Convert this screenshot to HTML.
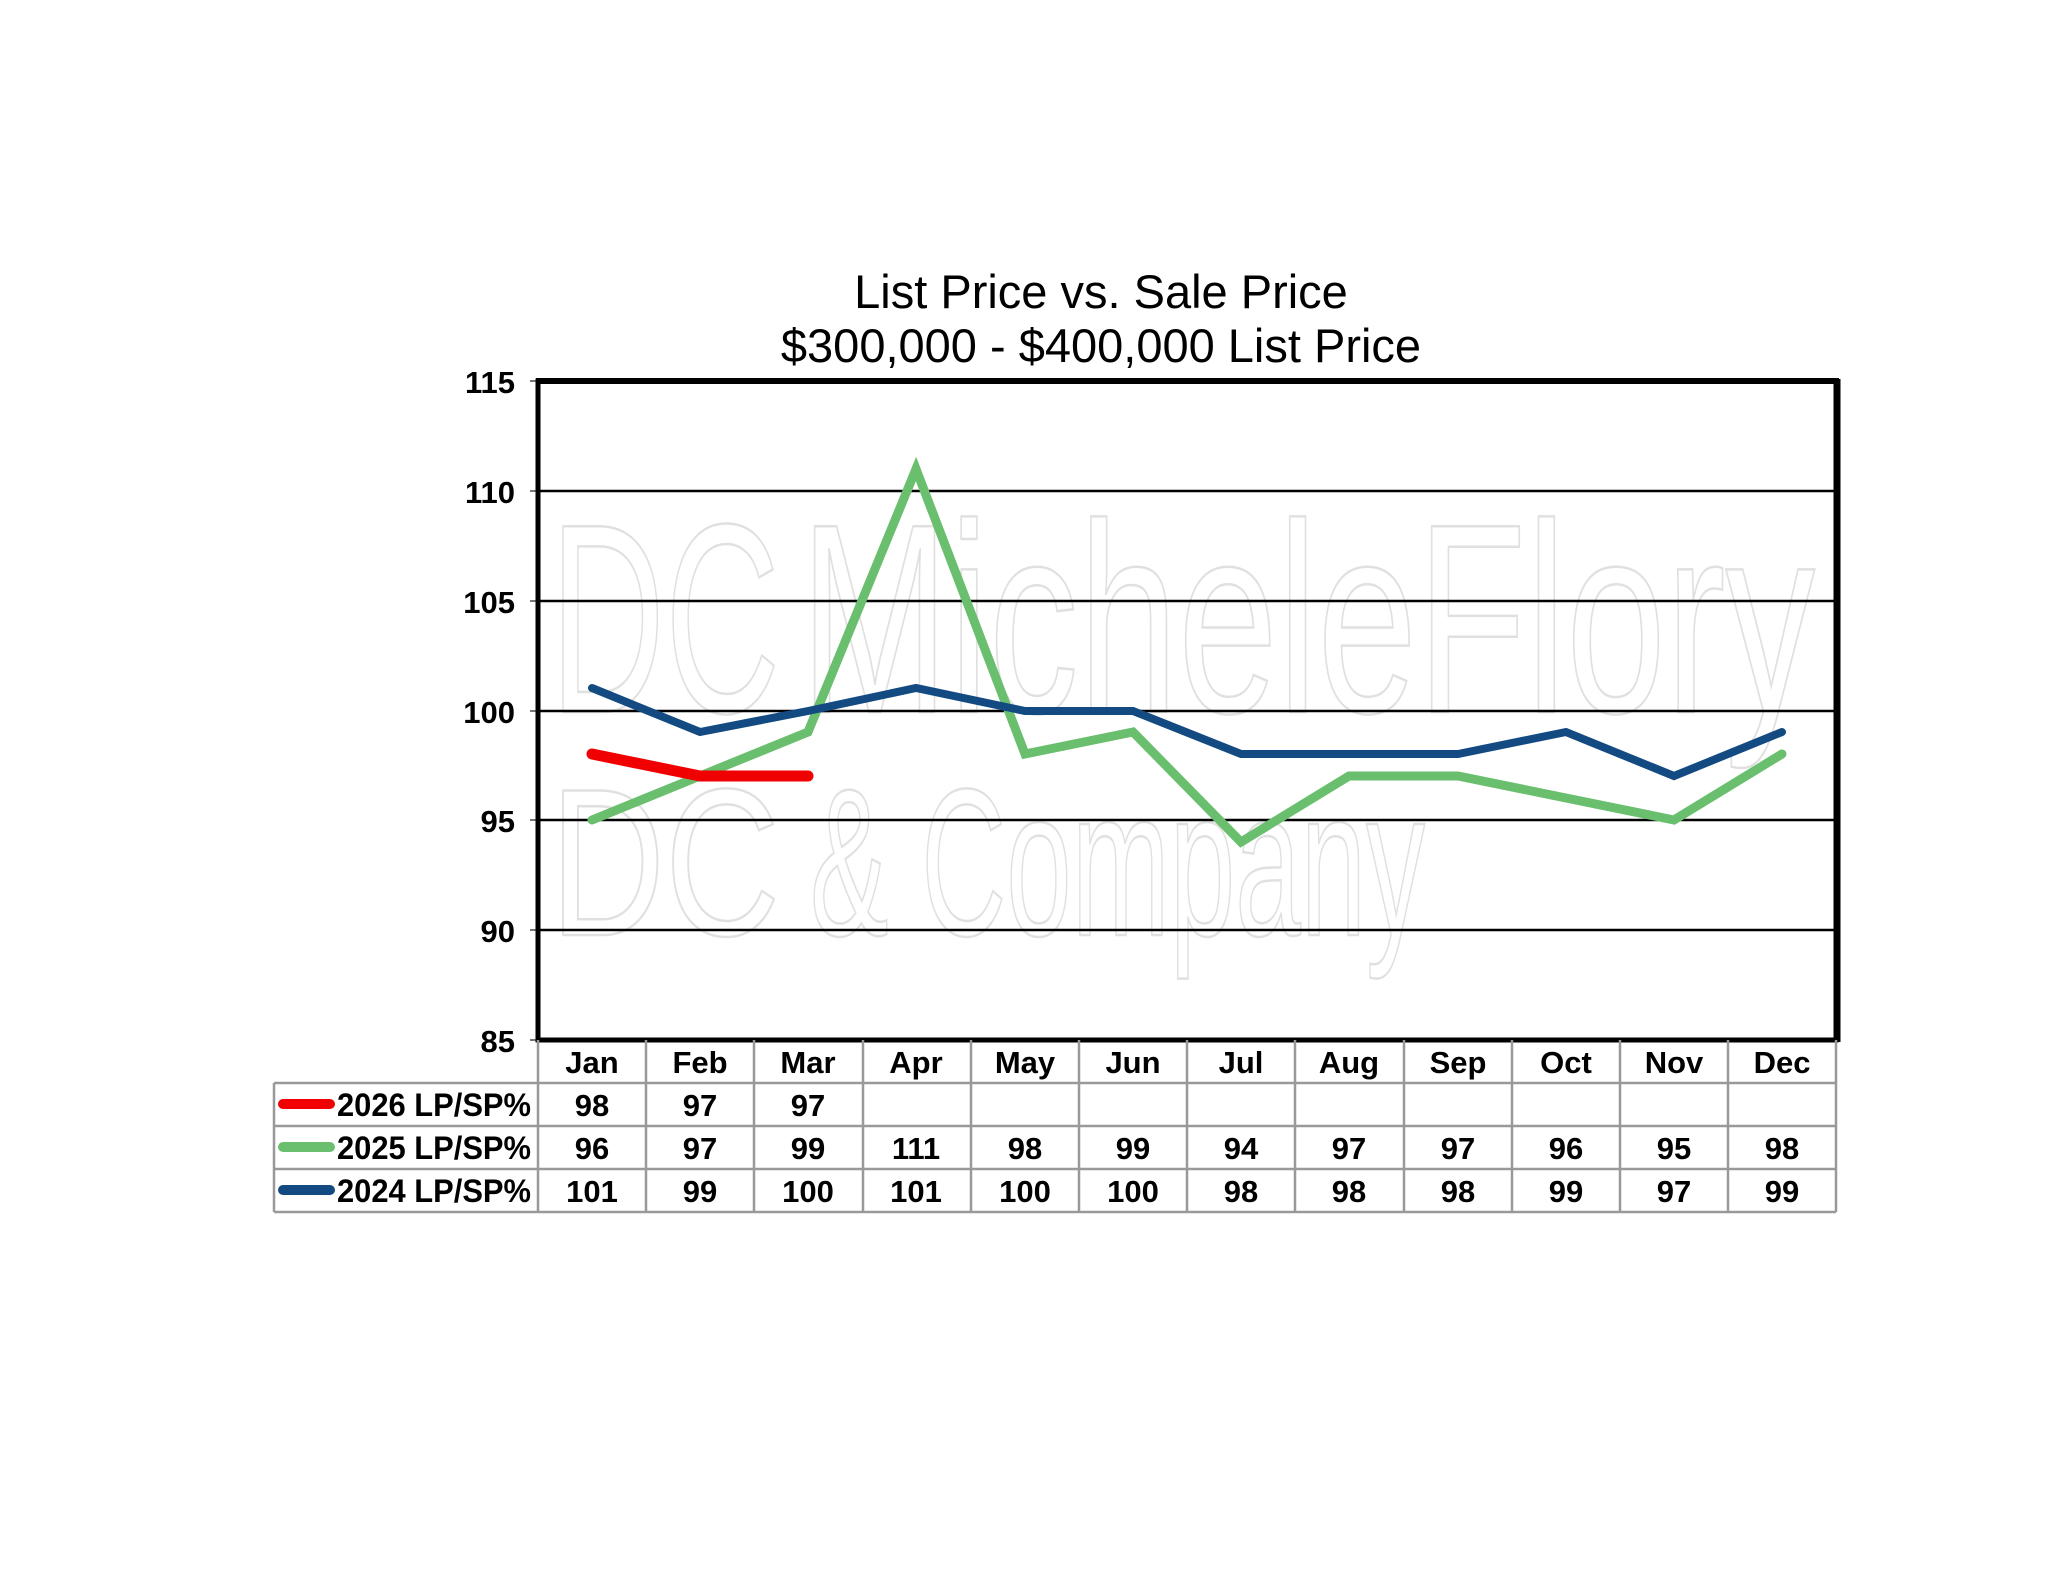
<!DOCTYPE html>
<html><head><meta charset="utf-8"><style>
html,body{margin:0;padding:0;background:#fff;}
svg{display:block;}
text{font-family:"Liberation Sans",Arial,sans-serif;}
</style></head><body>
<svg width="2048" height="1583" viewBox="0 0 2048 1583" xmlns="http://www.w3.org/2000/svg">
<rect width="2048" height="1583" fill="#fff"/>
<!-- watermark -->
<g fill="none" stroke="#e0e0e0" stroke-width="2.5" font-family="Liberation Sans, sans-serif">
<text x="800" y="712" font-size="270" textLength="1015" lengthAdjust="spacingAndGlyphs">MicheleFlory</text>
<text x="810" y="935" font-size="210" textLength="615" lengthAdjust="spacingAndGlyphs">&amp; Company</text>
<text x="550" y="712" font-size="270" textLength="230" lengthAdjust="spacingAndGlyphs">DC</text>
<text x="550" y="935" font-size="210" textLength="230" lengthAdjust="spacingAndGlyphs">DC</text>
</g>
<!-- title -->
<text x="1101" y="308" font-size="47" text-anchor="middle" fill="#000">List Price vs. Sale Price</text>
<text x="1101" y="362" font-size="47" text-anchor="middle" fill="#000">$300,000 - $400,000  List Price</text>
<!-- gridlines -->
<g stroke="#000" stroke-width="2.5">
<line x1="538" y1="491" x2="1836" y2="491"/>
<line x1="538" y1="601" x2="1836" y2="601"/>
<line x1="538" y1="711" x2="1836" y2="711"/>
<line x1="538" y1="820" x2="1836" y2="820"/>
<line x1="538" y1="930" x2="1836" y2="930"/>
</g>
<g stroke="#777" stroke-width="2">
<line x1="530" y1="381" x2="538" y2="381"/><line x1="530" y1="491" x2="538" y2="491"/>
<line x1="530" y1="601" x2="538" y2="601"/><line x1="530" y1="711" x2="538" y2="711"/>
<line x1="530" y1="820" x2="538" y2="820"/><line x1="530" y1="930" x2="538" y2="930"/>
<line x1="530" y1="1040" x2="538" y2="1040"/>
</g>
<rect x="538" y="381" width="1298" height="659" fill="none" stroke="#000" stroke-width="5"/>
<line x1="1837" y1="379" x2="1837" y2="1042" stroke="#000" stroke-width="7"/>
<line x1="536" y1="381" x2="1839" y2="381" stroke="#000" stroke-width="6"/>
<!-- y labels -->
<g font-size="31" font-weight="bold" text-anchor="end" fill="#000">
<text x="515" y="393">115</text><text x="515" y="503">110</text><text x="515" y="613">105</text>
<text x="515" y="723">100</text><text x="515" y="832">95</text><text x="515" y="942">90</text>
<text x="515" y="1052">85</text>
</g>
<!-- series -->
<g fill="none" stroke-linecap="round" stroke-linejoin="miter">
<polyline stroke="#6abf6e" stroke-width="9" points="592,820 700,776 808,732 916,469 1025,754 1133,732 1241,842 1349,776 1458,776 1566,798 1674,820 1782,754"/>
<polyline stroke="#134a82" stroke-width="8" points="592,688 700,732 808,711 916,688 1025,711 1133,711 1241,754 1349,754 1458,754 1566,732 1674,776 1782,732"/>
<polyline stroke="#f00000" stroke-width="11" points="592,754 700,776 808,776"/>
</g>
<!-- table -->
<g stroke="#999" stroke-width="2.5" fill="none">
<line x1="274" y1="1083" x2="1836" y2="1083"/>
<line x1="274" y1="1126" x2="1836" y2="1126"/>
<line x1="274" y1="1169" x2="1836" y2="1169"/>
<line x1="274" y1="1212" x2="1836" y2="1212"/>
<line x1="274" y1="1083" x2="274" y2="1212"/>
<line x1="538" y1="1040" x2="538" y2="1212"/>
<line x1="646" y1="1040" x2="646" y2="1212"/><line x1="754" y1="1040" x2="754" y2="1212"/>
<line x1="863" y1="1040" x2="863" y2="1212"/><line x1="971" y1="1040" x2="971" y2="1212"/>
<line x1="1079" y1="1040" x2="1079" y2="1212"/><line x1="1187" y1="1040" x2="1187" y2="1212"/>
<line x1="1295" y1="1040" x2="1295" y2="1212"/><line x1="1404" y1="1040" x2="1404" y2="1212"/>
<line x1="1512" y1="1040" x2="1512" y2="1212"/><line x1="1620" y1="1040" x2="1620" y2="1212"/>
<line x1="1728" y1="1040" x2="1728" y2="1212"/><line x1="1836" y1="1040" x2="1836" y2="1212"/>
</g>
<g stroke-linecap="round" stroke-width="10">
<line x1="283" y1="1104" x2="330" y2="1104" stroke="#f00000"/>
<line x1="283" y1="1147" x2="330" y2="1147" stroke="#6abf6e"/>
<line x1="283" y1="1190" x2="330" y2="1190" stroke="#134a82"/>
</g>
<g font-size="32" font-weight="bold" fill="#000">
<text x="337" y="1116" textLength="194" lengthAdjust="spacingAndGlyphs">2026 LP/SP%</text>
<text x="337" y="1159" textLength="194" lengthAdjust="spacingAndGlyphs">2025 LP/SP%</text>
<text x="337" y="1202" textLength="194" lengthAdjust="spacingAndGlyphs">2024 LP/SP%</text>
</g>
<g font-size="31" font-weight="bold" fill="#000" text-anchor="middle">
<text x="592" y="1073">Jan</text><text x="700" y="1073">Feb</text><text x="808" y="1073">Mar</text>
<text x="916" y="1073">Apr</text><text x="1025" y="1073">May</text><text x="1133" y="1073">Jun</text>
<text x="1241" y="1073">Jul</text><text x="1349" y="1073">Aug</text><text x="1458" y="1073">Sep</text>
<text x="1566" y="1073">Oct</text><text x="1674" y="1073">Nov</text><text x="1782" y="1073">Dec</text>
<text x="592" y="1116">98</text><text x="700" y="1116">97</text><text x="808" y="1116">97</text>
<text x="592" y="1159">96</text><text x="700" y="1159">97</text><text x="808" y="1159">99</text>
<text x="916" y="1159">111</text><text x="1025" y="1159">98</text><text x="1133" y="1159">99</text>
<text x="1241" y="1159">94</text><text x="1349" y="1159">97</text><text x="1458" y="1159">97</text>
<text x="1566" y="1159">96</text><text x="1674" y="1159">95</text><text x="1782" y="1159">98</text>
<text x="592" y="1202">101</text><text x="700" y="1202">99</text><text x="808" y="1202">100</text>
<text x="916" y="1202">101</text><text x="1025" y="1202">100</text><text x="1133" y="1202">100</text>
<text x="1241" y="1202">98</text><text x="1349" y="1202">98</text><text x="1458" y="1202">98</text>
<text x="1566" y="1202">99</text><text x="1674" y="1202">97</text><text x="1782" y="1202">99</text>
</g>
</svg>
</body></html>
